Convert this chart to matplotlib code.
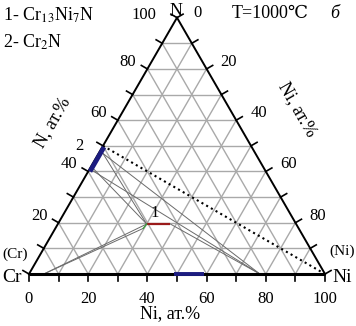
import numpy as np
import matplotlib.pyplot as plt

plt.rcParams['font.family'] = ['Liberation Serif', 'DejaVu Serif']
plt.rcParams['mathtext.fontset'] = 'stix'

# data (fractions: Ni, N)
grid_vals = [0.1, 0.2, 0.3, 0.4, 0.5, 0.6, 0.7, 0.8, 0.9]
tick_vals = [0.0, 0.1, 0.2, 0.3, 0.4, 0.5, 0.6, 0.7, 0.8, 0.9, 1.0]
bottom_labels = ['0', '20', '40', '60', '80', '100']
bottom_label_vals = [0.0, 0.2, 0.4, 0.6, 0.8, 1.0]
left_labels = ['20', '40', '60', '80', '100']
left_label_vals = [0.2, 0.4, 0.6, 0.8, 1.0]
right_labels = ['0', '20', '40', '60', '80']
right_label_vals = [0.0, 0.2, 0.4, 0.6, 0.8]

cr2n_ni = [0.006, 0.006]
cr2n_n = [0.40, 0.495]
bottom_phase_ni = [0.49, 0.59]
bottom_phase_n = [0.0, 0.0]
phase1_ni = [0.30, 0.38]
phase1_n = [0.195, 0.195]
green_ni = [0.297, 0.30]
green_n = [0.178, 0.195]
dotted_ni = [0.0, 1.0]
dotted_n = [0.50, 0.0]

tie_lines = [
    ((0.015, 0.47), (0.78, 0.0)),
    ((0.0, 0.41), (0.78, 0.0)),
    ((0.38, 0.195), (0.78, 0.0)),
    ((0.015, 0.47), (0.30, 0.195)),
    ((0.0, 0.42), (0.30, 0.195)),
    ((0.05, 0.0), (0.30, 0.195)),
    ((0.05, 0.0), (0.297, 0.178)),
]

H = np.sqrt(3) / 2
S = 296.0  # pixels per unit side


def tern(ni, n):
    ni = np.asarray(ni, dtype=float)
    n = np.asarray(n, dtype=float)
    return ni + n / 2, n * H


def px(x, y):
    # pixel position (from top-left) to data coords
    return (x - 29) / S, (274 - y) / S


fig = plt.figure(figsize=(3.56, 3.26), dpi=100)
ax = fig.add_axes([0, 0, 1, 1])
ax.set_xlim(-29 / S, 327 / S)
ax.set_ylim(-52 / S, 274 / S)
ax.axis('off')

gc = '#a9a9a9'
for v in grid_vals:
    x, y = tern([0, 1 - v], [v, v])
    ax.plot(x, y, color=gc, lw=1.0, zorder=1)
    x, y = tern([v, v], [0, 1 - v])
    ax.plot(x, y, color=gc, lw=1.0, zorder=1)
    x, y = tern([1 - v, 0], [0, 1 - v])
    ax.plot(x, y, color=gc, lw=1.0, zorder=1)

for a, b in tie_lines:
    x, y = tern([a[0], b[0]], [a[1], b[1]])
    ax.plot(x, y, color='#6a6a6a', lw=0.7, zorder=2)

x, y = tern(dotted_ni, dotted_n)
ax.plot(x, y, color='black', lw=1.5, ls=(0, (1, 1.6)), zorder=3)

# triangle edges
x, y = tern([0, 1], [0, 0])
ax.plot(x, y, color='black', lw=2.2, zorder=4, solid_capstyle='butt')
x, y = tern([0, 0], [0, 1])
ax.plot(x, y, color='black', lw=1.4, zorder=4)
x, y = tern([0, 1], [1, 0])
ax.plot(x, y, color='black', lw=1.4, zorder=4)

# phases
x, y = tern(cr2n_ni, cr2n_n)
ax.plot(x, y, color='#1c1c80', lw=3.4, zorder=5, solid_capstyle='butt')
x, y = tern(bottom_phase_ni, bottom_phase_n)
ax.plot(x, y, color='#1c1c80', lw=2.8, zorder=5, solid_capstyle='butt')
x, y = tern(phase1_ni, phase1_n)
ax.plot(x, y, color='#9a1a1a', lw=1.6, zorder=5, solid_capstyle='butt')
x, y = tern(green_ni, green_n)
ax.plot(x, y, color='#3c9a3c', lw=1.0, zorder=5)

# ticks
tl = 7 / S
for v in tick_vals:
    x0, y0 = tern(v, 0)
    ax.plot([x0, x0], [y0, y0 - tl], color='black', lw=1.2, zorder=4)
    x0, y0 = tern(0, v)
    ax.plot([x0, x0 - tl * H], [y0, y0 + tl * 0.5], color='black', lw=1.2, zorder=4)
    x0, y0 = tern(v, 1 - v)
    ax.plot([x0, x0 + tl * H], [y0, y0 + tl * 0.5], color='black', lw=1.2, zorder=4)

fs = 12
for lab, v in zip(bottom_labels, bottom_label_vals):
    ax.annotate(lab, tern(v, 0), xytext=(0, -17), textcoords='offset pixels',
                ha='center', va='top', fontsize=fs)
for lab, v in zip(left_labels, left_label_vals):
    off = (-21, 3) if v == 1.0 else (-11, 7)
    ax.annotate(lab, tern(0, v), xytext=off, textcoords='offset pixels',
                ha='right', va='center', fontsize=fs)
for lab, v in zip(right_labels, right_label_vals):
    off = (16, 5) if v == 0.0 else (14, 7)
    ax.annotate(lab, tern(v, 1 - v), xytext=off, textcoords='offset pixels',
                ha='left', va='center', fontsize=fs)

ax.text(*px(176, 12), 'N', ha='center', va='center', fontsize=fs + 1, zorder=0)
ax.text(*px(12, 278), 'Cr', ha='center', va='center', fontsize=fs + 2)
ax.text(*px(342, 277), 'Ni', ha='center', va='center', fontsize=fs + 2)
ax.text(*px(15, 254), '(Cr)', ha='center', va='center', fontsize=fs - 1)
ax.text(*px(342, 251), '(Ni)', ha='center', va='center', fontsize=fs - 1)
ax.text(*px(170, 314), 'Ni, ат.%', ha='center', va='center', fontsize=fs + 1)
ax.text(*px(52, 122), 'N, ат.%', ha='center', va='center', fontsize=fs + 1, rotation=60)
ax.text(*px(297, 109), 'Ni, ат.%', ha='center', va='center', fontsize=fs + 1, rotation=-60)
ax.text(*px(79, 146), '2', ha='center', va='center', fontsize=fs)
ax.text(*px(155, 213), '1', ha='center', va='center', fontsize=fs)

ax.text(*px(3, 15), r'1- Cr$_{13}$Ni$_{7}$N', ha='left', va='center', fontsize=fs + 1)
ax.text(*px(3, 42), r'2- Cr$_{2}$N', ha='left', va='center', fontsize=fs + 1)
ax.text(*px(232, 14), 'T=1000℃', ha='left', va='center', fontsize=fs + 1)
ax.text(*px(330, 14), 'б', ha='left', va='center', fontsize=fs + 1, style='italic')

fig.savefig('out.png', dpi=100)
